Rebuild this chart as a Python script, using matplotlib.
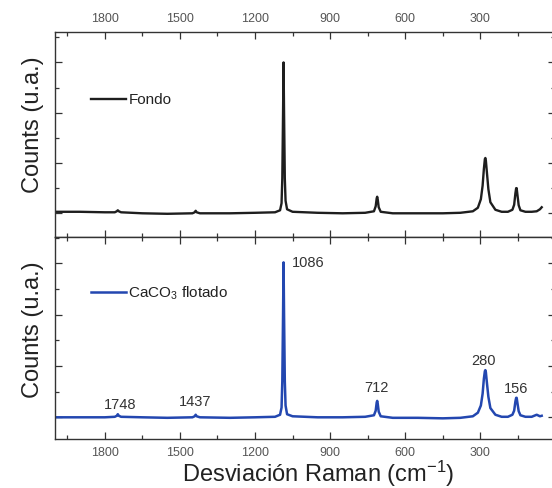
import numpy as np
import matplotlib
matplotlib.use('Agg')
from matplotlib import pyplot as plt
from matplotlib.ticker import MultipleLocator

plt.rcParams['font.family'] = ['Liberation Sans', 'DejaVu Sans']
plt.rcParams['mathtext.default'] = 'regular'

# Raman shift (cm-1) sampled along both spectra
shift = [2000, 1900, 1800, 1760, 1752, 1748, 1744, 1735, 1650, 1550,
         1450, 1441, 1437, 1433, 1420, 1300, 1200, 1120, 1100, 1094,
         1091, 1088, 1086, 1084, 1081, 1078, 1072, 1050, 950, 850,
         760, 725, 718, 714, 712, 710, 706, 698, 650, 550,
         450, 380, 330, 310, 298, 291, 286, 282, 280, 278,
         274, 268, 260, 240, 215, 190, 172, 165, 160, 157,
         155, 152, 147, 140, 120, 95, 75, 62, 55]

# "Fondo" (top panel)
fondo = [0.03, 0.03, 0.02, 0.02, 0.04, 0.06, 0.04, 0.02, 0.00, -0.01,
         0.00, 0.02, 0.05, 0.02, 0.00, 0.00, 0.01, 0.02, 0.06, 0.20,
         0.70, 2.00, 3.00, 2.00, 0.70, 0.25, 0.08, 0.03, 0.01, 0.00,
         0.01, 0.04, 0.14, 0.30, 0.33, 0.28, 0.12, 0.03, 0.00, 0.00,
         0.00, 0.01, 0.04, 0.11, 0.28, 0.55, 0.88, 1.08, 1.10, 1.05,
         0.82, 0.48, 0.22, 0.07, 0.03, 0.03, 0.07, 0.17, 0.40, 0.50,
         0.50, 0.37, 0.16, 0.06, 0.03, 0.03, 0.04, 0.08, 0.12]

# "CaCO3 flotado" (bottom panel)
flotado = [0.00, 0.00, 0.00, 0.01, 0.03, 0.06, 0.03, 0.01, 0.00, -0.01,
           0.00, 0.02, 0.05, 0.02, 0.00, -0.01, 0.00, 0.01, 0.05, 0.19,
           0.70, 2.00, 3.02, 2.00, 0.70, 0.23, 0.06, 0.02, 0.00, 0.00,
           0.01, 0.04, 0.13, 0.29, 0.32, 0.27, 0.11, 0.02, -0.01, -0.01,
           -0.02, -0.01, 0.02, 0.09, 0.23, 0.46, 0.75, 0.90, 0.92, 0.88,
           0.68, 0.40, 0.18, 0.05, 0.01, 0.01, 0.05, 0.13, 0.31, 0.38,
           0.38, 0.28, 0.12, 0.04, 0.01, 0.01, 0.05, 0.02, 0.03]

peak_labels = ['1748', '1437', '1086', '712', '280', '156']
peak_x = [1737, 1441, 1051, 716, 287, 159]
peak_y = [0.24, 0.30, 3.00, 0.57, 1.10, 0.55]
peak_ha = ['center', 'center', 'left', 'center', 'center', 'center']

xticks = [1800, 1500, 1200, 900, 600, 300]

fig = plt.figure(figsize=(5.52, 4.88), dpi=100)
ax1 = fig.add_axes([0.0991, 0.515, 0.9072, 0.4189])
ax2 = fig.add_axes([0.0991, 0.1004, 0.9072, 0.4145])

ax1.plot(shift, fondo, color='#1e1e1e', lw=1.7, label='Fondo')
ax2.plot(shift, flotado, color='#2347b0', lw=1.8, label='CaCO$_3$ flotado')

ax1.set_ylim(-0.465, 3.6)
ax2.set_ylim(-0.423, 3.52)

for ax in (ax1, ax2):
    ax.set_xlim(2000, 0)
    ax.set_xticks(xticks)
    ax.xaxis.set_minor_locator(MultipleLocator(150))
    ax.yaxis.set_major_locator(MultipleLocator(1))
    ax.yaxis.set_minor_locator(MultipleLocator(0.5))
    ax.set_yticklabels([])
    ax.tick_params(which='both', direction='in', top=True, bottom=True,
                   left=True, right=True, color='#333333', width=0.9,
                   labelsize=9, labelcolor='#555555', pad=5.5)
    ax.tick_params(which='major', length=5)
    ax.tick_params(which='minor', length=3)
    for s in ax.spines.values():
        s.set_color('#333333')
        s.set_linewidth(1.0)

ax1.tick_params(labeltop=True, labelbottom=False, labelleft=False)
ax2.tick_params(labeltop=False, labelbottom=True, labelleft=False)

ax1.set_ylabel('Counts (u.a.)', fontsize=17, color='#222222')
ax1.yaxis.set_label_coords(-0.021, 0.546)
ax2.set_ylabel('Counts (u.a.)', fontsize=17, color='#222222')
ax2.yaxis.set_label_coords(-0.021, 0.539)

ax2.set_xlabel('Desviación Raman (cm$^{-1}$)', fontsize=17, color='#222222')
ax2.xaxis.set_label_coords(0.527, -0.099)

ax1.legend(loc='center left', bbox_to_anchor=(0.0725, 0.669), frameon=False,
           borderpad=0, borderaxespad=0, handlelength=2.3, handletextpad=0.15,
           fontsize=11, labelcolor='#222222')
ax2.legend(loc='center left', bbox_to_anchor=(0.0725, 0.722), frameon=False,
           borderpad=0, borderaxespad=0, handlelength=2.3, handletextpad=0.15,
           fontsize=11, labelcolor='#222222')

for lab, x, y, ha in zip(peak_labels, peak_x, peak_y, peak_ha):
    ax2.text(x, y, lab, ha=ha, va='center', fontsize=10.5, color='#333333')

fig.savefig('out.png', dpi=100)
